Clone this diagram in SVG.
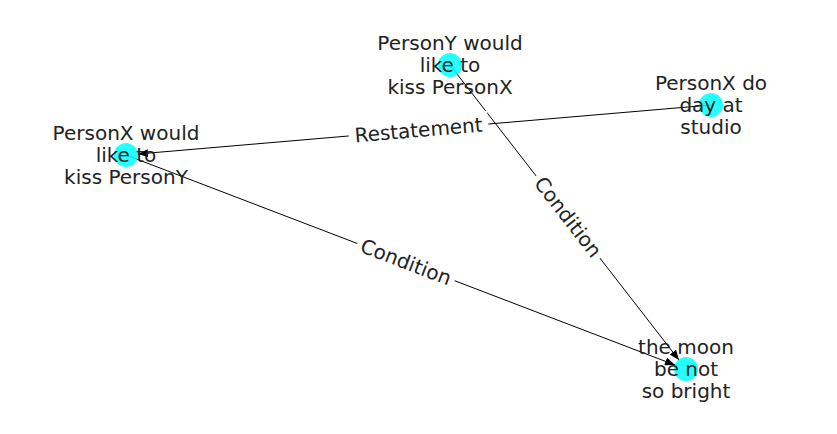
<svg xmlns="http://www.w3.org/2000/svg" width="837" height="434" viewBox="0 0 837 434">
<style>
text{font-family:"DejaVu Sans",sans-serif;font-size:20px;fill:#222;text-anchor:middle;dominant-baseline:central}
.e{stroke:#000;stroke-width:1;fill:none}
.n{fill:#00ffff;fill-opacity:0.85}
.lb{fill:#fff}
</style>
<defs>
<marker id="a" viewBox="0 0 10 8" refX="10" refY="4" markerWidth="10" markerHeight="8" markerUnits="userSpaceOnUse" orient="auto">
<path d="M0,0 L10,4 L0,8 Z" fill="#000"/>
</marker>
</defs>
<g id="edges">
<line class="e" x1="711" y1="105" x2="138" y2="154" marker-end="url(#a)"/>
<line class="e" x1="126" y1="155" x2="675" y2="365" marker-end="url(#a)"/>
<line class="e" x1="450" y1="65" x2="679" y2="360" marker-end="url(#a)"/>
<g transform="translate(418.5,130) rotate(-4.9)"><rect class="lb" x="-70" y="-13" width="140" height="26"/><text x="0" y="0">Restatement</text></g>
<g transform="translate(406,262) rotate(20.9)"><rect class="lb" x="-52" y="-13" width="104" height="26"/><text x="0" y="0">Condition</text></g>
<g transform="translate(568,217) rotate(52.2)"><rect class="lb" x="-52" y="-13" width="104" height="26"/><text x="0" y="0">Condition</text></g>
</g>
<g id="n1"><circle class="n" cx="126" cy="155" r="12"/><text x="126" y="133">PersonX would</text><text x="126" y="155">like to</text><text x="126" y="177">kiss PersonY</text></g>
<g id="n2"><circle class="n" cx="450" cy="65" r="12"/><text x="450" y="43">PersonY would</text><text x="450" y="65">like to</text><text x="450" y="87">kiss PersonX</text></g>
<g id="n3"><circle class="n" cx="711" cy="105" r="12"/><text x="711" y="83">PersonX do</text><text x="711" y="105">day at</text><text x="711" y="127">studio</text></g>
<g id="n4"><circle class="n" cx="686" cy="369" r="12"/><text x="686" y="347">the moon</text><text x="686" y="369">be not</text><text x="686" y="391">so bright</text></g>
</svg>
